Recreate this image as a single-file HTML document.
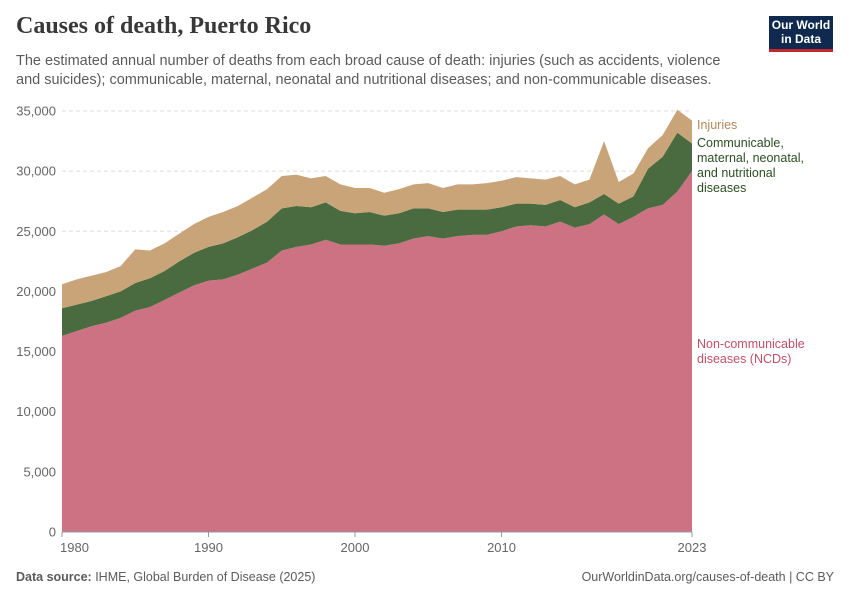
<!DOCTYPE html>
<html><head><meta charset="utf-8"><style>
body{margin:0;background:#fff;font-family:"Liberation Sans",sans-serif;}
#wrap{position:relative;width:850px;height:600px;overflow:hidden;}
h1{position:absolute;left:16px;top:13px;margin:0;font-family:"Liberation Serif",serif;font-weight:bold;font-size:24px;color:#383838;}
.sub{position:absolute;left:16px;top:52px;width:730px;font-size:14.5px;line-height:19px;color:#5b5b5b;}
.logo{position:absolute;left:769px;top:16px;width:64px;height:36px;background:#0f2a4e;border-bottom:3px solid #c4262e;color:#fff;font-size:12px;line-height:14px;text-align:center;padding-top:2px;box-sizing:border-box;font-weight:bold;}
.foot{position:absolute;top:570px;font-size:12.5px;color:#5b5b5b;}
</style></head><body>
<div id="wrap">
<h1>Causes of death, Puerto Rico</h1>
<div class="sub">The estimated annual number of deaths from each broad cause of death: injuries (such as accidents, violence and suicides); communicable, maternal, neonatal and nutritional diseases; and non-communicable diseases.</div>
<div class="logo">Our World<br>in Data</div>
<svg id="svg" width="850" height="600" style="position:absolute;left:0;top:0"></svg>
<div class="foot" style="left:16px"><b>Data source:</b> IHME, Global Burden of Disease (2025)</div>
<div class="foot" style="right:16px">OurWorldinData.org/causes-of-death | CC BY</div>
</div>
<script>
const years=[];for(let y=1980;y<=2023;y++)years.push(y);
const ncd=[16.3,16.7,17.1,17.4,17.8,18.4,18.7,19.3,19.9,20.5,20.9,21.0,21.4,21.9,22.4,23.4,23.7,23.9,24.3,23.9,23.9,23.9,23.8,24.0,24.4,24.6,24.4,24.6,24.7,24.7,25.0,25.4,25.5,25.4,25.8,25.3,25.6,26.4,25.6,26.2,26.9,27.2,28.3,30.0];
const communicable=[2.3,2.2,2.1,2.2,2.2,2.3,2.4,2.4,2.6,2.7,2.8,3.0,3.1,3.2,3.4,3.5,3.4,3.1,3.1,2.8,2.6,2.7,2.5,2.5,2.5,2.3,2.2,2.2,2.1,2.1,2.0,1.9,1.8,1.8,1.8,1.7,1.8,1.7,1.7,1.7,3.3,4.0,4.9,2.3];
const injuries=[2.0,2.1,2.1,2.0,2.1,2.8,2.3,2.3,2.3,2.4,2.5,2.6,2.6,2.7,2.7,2.7,2.6,2.4,2.2,2.2,2.1,2.0,1.9,2.0,2.0,2.1,2.0,2.1,2.1,2.2,2.2,2.2,2.1,2.1,2.0,1.9,1.9,4.4,1.8,1.9,1.7,1.8,1.9,1.9];
const yTicks=[0,5000,10000,15000,20000,25000,30000,35000];
const xTicks=[1980,1990,2000,2010,2023];
const svg=document.getElementById('svg');const NS='http://www.w3.org/2000/svg';
const X=y=>62+(y-1980)*(630/43);const Y=v=>532-v*421/35000;
function mk(t,a){const e=document.createElementNS(NS,t);for(const k in a)e.setAttribute(k,a[k]);svg.appendChild(e);return e;}
yTicks.forEach(v=>{
 const l=mk('line',{x1:62,x2:692,y1:Y(v),y2:Y(v),stroke:'#ddd','stroke-dasharray':v?'4,3':'',});
 
 
 const t=mk('text',{x:56,y:Y(v)+4.5,'text-anchor':'end','font-size':13,fill:'#666','font-family':'Liberation Sans'});
 t.textContent=v.toLocaleString('en-US');
 
 
});
const series=[{d:ncd,c:'#cc7282',n:'ncd-area'},{d:communicable,c:'#4a6b40',n:'communicable-area'},{d:injuries,c:'#c8a478',n:'injuries-area'}];
const base=years.map(()=>0);
series.forEach(s=>{
 const top=base.map((b,i)=>b+s.d[i]*1000);
 let p='M'+years.map((y,i)=>X(y)+','+Y(top[i])).join('L');
 for(let i=years.length-1;i>=0;i--)p+='L'+X(years[i])+','+Y(base[i]);
 const e=mk('path',{d:p+'Z',fill:s.c});
 
 
 top.forEach((v,i)=>base[i]=v);
});
mk('line',{x1:62,x2:692,y1:532,y2:532,stroke:'#999'});
xTicks.forEach(y=>{
 mk('line',{x1:X(y),x2:X(y),y1:532,y2:537,stroke:'#999'});
 const t=mk('text',{x:y==1980?X(y)-2:X(y),y:552,'text-anchor':y==1980?'start':'middle','font-size':13,fill:'#666','font-family':'Liberation Sans'});
 t.textContent=y;
 
 
});
const labels=[{t:['Injuries'],y:129,c:'#b08a5a',n:'injuries-label'},{t:['Communicable,','maternal, neonatal,','and nutritional','diseases'],y:147,c:'#2c4e22',n:'communicable-label'},{t:['Non-communicable','diseases (NCDs)'],y:348,c:'#c0506a',n:'ncd-label'}];
labels.forEach(L=>{L.t.forEach((s,i)=>{
 const t=mk('text',{x:697,y:L.y+i*15,'font-size':12.5,fill:L.c,'font-family':'Liberation Sans'});
 t.textContent=s;
 
 
});});
</script>
</body></html>
